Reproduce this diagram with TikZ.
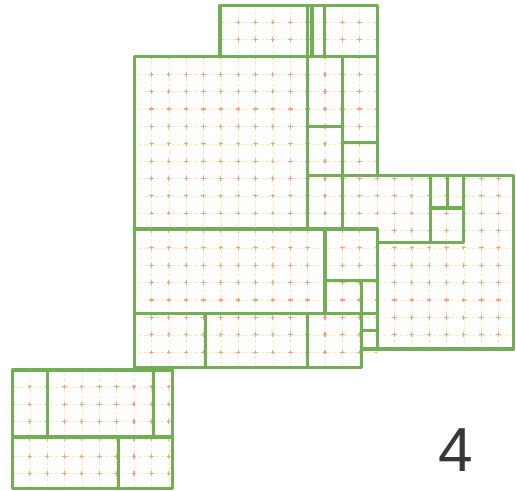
\documentclass[tikz,border=0pt]{standalone}
\usepackage{fontspec}
\setmainfont{Liberation Sans}
\definecolor{wallgreen}{HTML}{72AE55}
\definecolor{gridyellow}{HTML}{FAF0A8}
\definecolor{gridpink}{HTML}{F4A098}
\definecolor{labelgray}{HTML}{383838}
\usetikzlibrary{positioning}
\tikzset{
  wall/.style={draw=wallgreen,line width=2.5pt,line cap=round,line join=round},
  gridline/.style={draw=gridyellow,line width=0.4pt,dash pattern=on 1mm off 0.6mm,dash phase=0.3mm},
  gridmark/.style={draw=gridpink,line width=0.9pt,dash pattern=on 1.3mm off 3.7mm,dash phase=0.65mm},
  planlabel/.style={font=\fontsize{51}{60}\selectfont,text=labelgray,inner sep=0pt},
}

\begin{document}
\begin{tikzpicture}[x=0.5cm,y=-0.5cm]
    \useasboundingbox (-7.72,-3.28) rectangle (22.0,25.0);

    % grid marks inside the buildings
    \begin{scope}
      \clip (4.95,-2.94) rectangle (14,0) (0,0) rectangle (14,9.91)
            (10,6.85) rectangle (21.83,16.82) (0,9.91) rectangle (14,17.91)
            (-7,18.03) rectangle (2.2,24.83);
      \draw[gridline] (-8,-4) grid[step=5mm] (23,26);
      \draw[gridmark] (-8,-4) grid[step=5mm] (23,26);
    \end{scope}

    % top annex
    \draw[wall] (4.95,-2.94) rectangle (14,0);
    \draw[wall] (10,-2.94) -- (10,0);
    \draw[wall] (10.25,-2.94) -- (10.25,0);
    \draw[wall] (10.95,-2.94) -- (10.95,0);

    % main block
    \draw[wall] (14,6.85) -- (14,0) -- (0,0) -- (0,17.91);
    \draw[wall] (0,9.91) -- (14,9.91);
    \draw[wall] (10,0) -- (10,9.91);
    \draw[wall] (12,0) -- (12,9.91);
    \draw[wall] (10,4) -- (12,4);
    \draw[wall] (12,4.95) -- (14,4.95);
    \draw[wall] (10,6.85) -- (21.83,6.85);

    % east wing
    \draw[wall] (21.83,6.85) -- (21.83,16.82) -- (13.1,16.82);
    \draw[wall] (14,9.91) -- (14,16.82);
    \draw[wall] (14,10.71) -- (18.95,10.71) -- (18.95,6.85);
    \draw[wall] (17.05,10.71) -- (17.05,6.85);
    \draw[wall] (17.05,8.7) -- (18.95,8.7);
    \draw[wall] (18.03,6.85) -- (18.03,8.7);

    % middle block
    \draw[wall] (0,14.8) -- (14,14.8);
    \draw[wall] (11,9.91) -- (11,14.8);
    \draw[wall] (11,12.85) -- (14,12.85);
    \draw[wall] (13.1,12.85) -- (13.1,17.91) -- (0,17.91);
    \draw[wall] (13.1,15.73) -- (14,15.73);
    \draw[wall] (4.1,14.8) -- (4.1,17.91);
    \draw[wall] (10,14.8) -- (10,17.91);

    % south-west wing
    \draw[wall] (-7,18.03) rectangle (2.2,24.83);
    \draw[wall] (-7,21.89) -- (2.2,21.89);
    \draw[wall] (-5,18.03) -- (-5,21.89);
    \draw[wall] (1.1,18.03) -- (1.1,21.89);
    \draw[wall] (-0.9,21.89) -- (-0.9,24.83);

    \node[planlabel] (plannumber) at (18.55,22.64) {4};
\end{tikzpicture}
\end{document}
